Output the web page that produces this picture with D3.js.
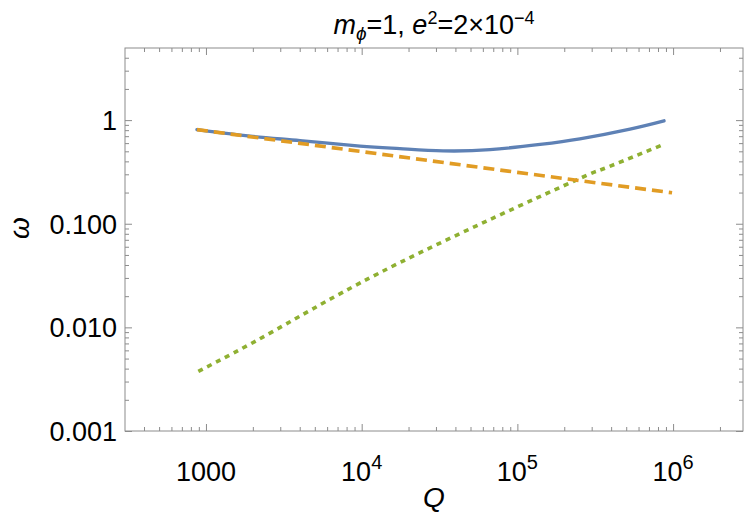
<!DOCTYPE html>
<html>
<head>
<meta charset="utf-8">
<script src="https://cdn.jsdelivr.net/npm/d3@7/dist/d3.min.js"></script>
<style>
  html, body { margin: 0; padding: 0; background: #fff; }
  svg { display: block; font-family: "Liberation Sans", Arial, sans-serif; }
</style>
</head>
<body>
<svg id="chart" width="750" height="519"></svg>
<script>
// ---- data ----
const blueQ   = [875, 1920, 4020, 9750, 17600, 33300, 66700, 140000, 252000, 529000, 875000];
const blueW   = [0.81, 0.70, 0.634, 0.561, 0.53, 0.505, 0.519, 0.583, 0.66, 0.82, 0.985];

const orangeQ = [875, 10000, 100000, 985000];
const orangeW = [0.81, 0.497, 0.313, 0.199];

const greenQ  = [893, 2770, 17600, 218000, 339000, 845000];
const greenW  = [0.00376, 0.00935, 0.0422, 0.248, 0.329, 0.573];

const xTickValues = [1000, 1e4, 1e5, 1e6];
const xTickLabels = [["1000", null], ["10", "4"], ["10", "5"], ["10", "6"]];
const yTickValues = [0.001, 0.01, 0.1, 1];
const yTickLabels = ["0.001", "0.010", "0.100", "1"];

const xDomain = [Math.pow(10, 2.48), Math.pow(10, 6.449)];
const yDomain = [0.001, Math.pow(10, 0.696)];

// ---- layout ----
const svg = d3.select("#chart");
const L = 125, R = 743, T = 48, B = 431;
const x = d3.scaleLog().domain(xDomain).range([L, R]);
const y = d3.scaleLog().domain(yDomain).range([B, T]);

const frameColor = "#8c8c8c";
const colors = { blue: "#5E81B5", orange: "#E19C24", green: "#8FB032" };

function minors(domain) {
  const out = [];
  const lo = Math.floor(Math.log10(domain[0])), hi = Math.ceil(Math.log10(domain[1]));
  for (let e = lo; e <= hi; e++) {
    for (let m = 2; m <= 9; m++) {
      const v = m * Math.pow(10, e);
      if (v >= domain[0] && v <= domain[1]) out.push(v);
    }
  }
  return out;
}
const xMinor = minors(xDomain);
const yMinor = minors(yDomain);

svg.append("defs").append("clipPath").attr("id", "clip")
  .append("rect").attr("x", L).attr("y", T).attr("width", R - L).attr("height", B - T);

const majorLen = 7, minorLen = 4;
function tickAxis(axisFn, scale, values, len, transform) {
  const g = svg.append("g").attr("transform", transform)
    .call(axisFn(scale).tickValues(values).tickSize(len).tickFormat(""));
  g.select(".domain").remove();
  g.selectAll(".tick line").attr("stroke", frameColor).attr("stroke-width", 1);
  return g;
}
tickAxis(d3.axisTop, x, xTickValues, majorLen, `translate(0,${B})`);
tickAxis(d3.axisTop, x, xMinor, minorLen, `translate(0,${B})`);
tickAxis(d3.axisBottom, x, xTickValues, majorLen, `translate(0,${T})`);
tickAxis(d3.axisBottom, x, xMinor, minorLen, `translate(0,${T})`);
tickAxis(d3.axisRight, y, yTickValues, majorLen, `translate(${L},0)`);
tickAxis(d3.axisRight, y, yMinor, minorLen, `translate(${L},0)`);
tickAxis(d3.axisLeft, y, yTickValues, majorLen, `translate(${R},0)`);
tickAxis(d3.axisLeft, y, yMinor, minorLen, `translate(${R},0)`);

svg.append("rect").attr("x", L).attr("y", T).attr("width", R - L).attr("height", B - T)
  .attr("fill", "none").attr("stroke", frameColor).attr("stroke-width", 1);

// ---- tick labels ----
const fs = 27;
const xl = svg.append("g");
xTickValues.forEach((v, i) => {
  const [base, sup] = xTickLabels[i];
  const t = xl.append("text").attr("x", x(v)).attr("y", 481)
    .attr("text-anchor", "middle").attr("font-size", fs).attr("fill", "#000");
  t.append("tspan").text(base);
  if (sup) t.append("tspan").attr("dy", -12).attr("font-size", 20).text(sup);
});
const yl = svg.append("g");
yTickValues.forEach((v, i) => {
  yl.append("text").attr("x", 117).attr("y", y(v) + 10)
    .attr("text-anchor", "end").attr("font-size", fs).attr("fill", "#000")
    .text(yTickLabels[i]);
});

// axis labels
svg.append("text").attr("x", 434).attr("y", 507).attr("text-anchor", "middle")
  .attr("font-size", 28).attr("font-style", "italic").text("Q");
svg.append("text").attr("transform", "translate(29,228) rotate(-90)")
  .attr("text-anchor", "middle").attr("font-size", 28).attr("font-style", "italic").text("ω");

// title
const title = svg.append("text").attr("x", 434).attr("y", 34).attr("text-anchor", "middle")
  .attr("font-size", 27).attr("fill", "#000");
title.append("tspan").attr("font-style", "italic").text("m");
title.append("tspan").attr("font-style", "italic").attr("font-size", 19).attr("dy", 6).text("ϕ");
title.append("tspan").attr("dy", -6).text("=1, ");
title.append("tspan").attr("font-style", "italic").text("e");
title.append("tspan").attr("font-size", 18).attr("dy", -10).text("2");
title.append("tspan").attr("dy", 10).text("=2×10");
title.append("tspan").attr("font-size", 18).attr("dy", -10).text("−4");

// ---- curves ----
const plot = svg.append("g").attr("clip-path", "url(#clip)");
function drawSeries(qs, ws, color, width, dash, curve) {
  const pts = qs.map((q, i) => [q, ws[i]]);
  const line = d3.line().x(d => x(d[0])).y(d => y(d[1])).curve(curve);
  plot.append("path").attr("d", line(pts)).attr("fill", "none")
    .attr("stroke", color).attr("stroke-width", width)
    .attr("stroke-dasharray", dash).attr("stroke-linecap", dash ? "butt" : "round");
}
drawSeries(greenQ, greenW, colors.green, 3.6, "5,5", d3.curveNatural);
drawSeries(blueQ, blueW, colors.blue, 3.3, null, d3.curveNatural);
drawSeries(orangeQ, orangeW, colors.orange, 3.6, "11,6", d3.curveLinear);
</script>
</body>
</html>
